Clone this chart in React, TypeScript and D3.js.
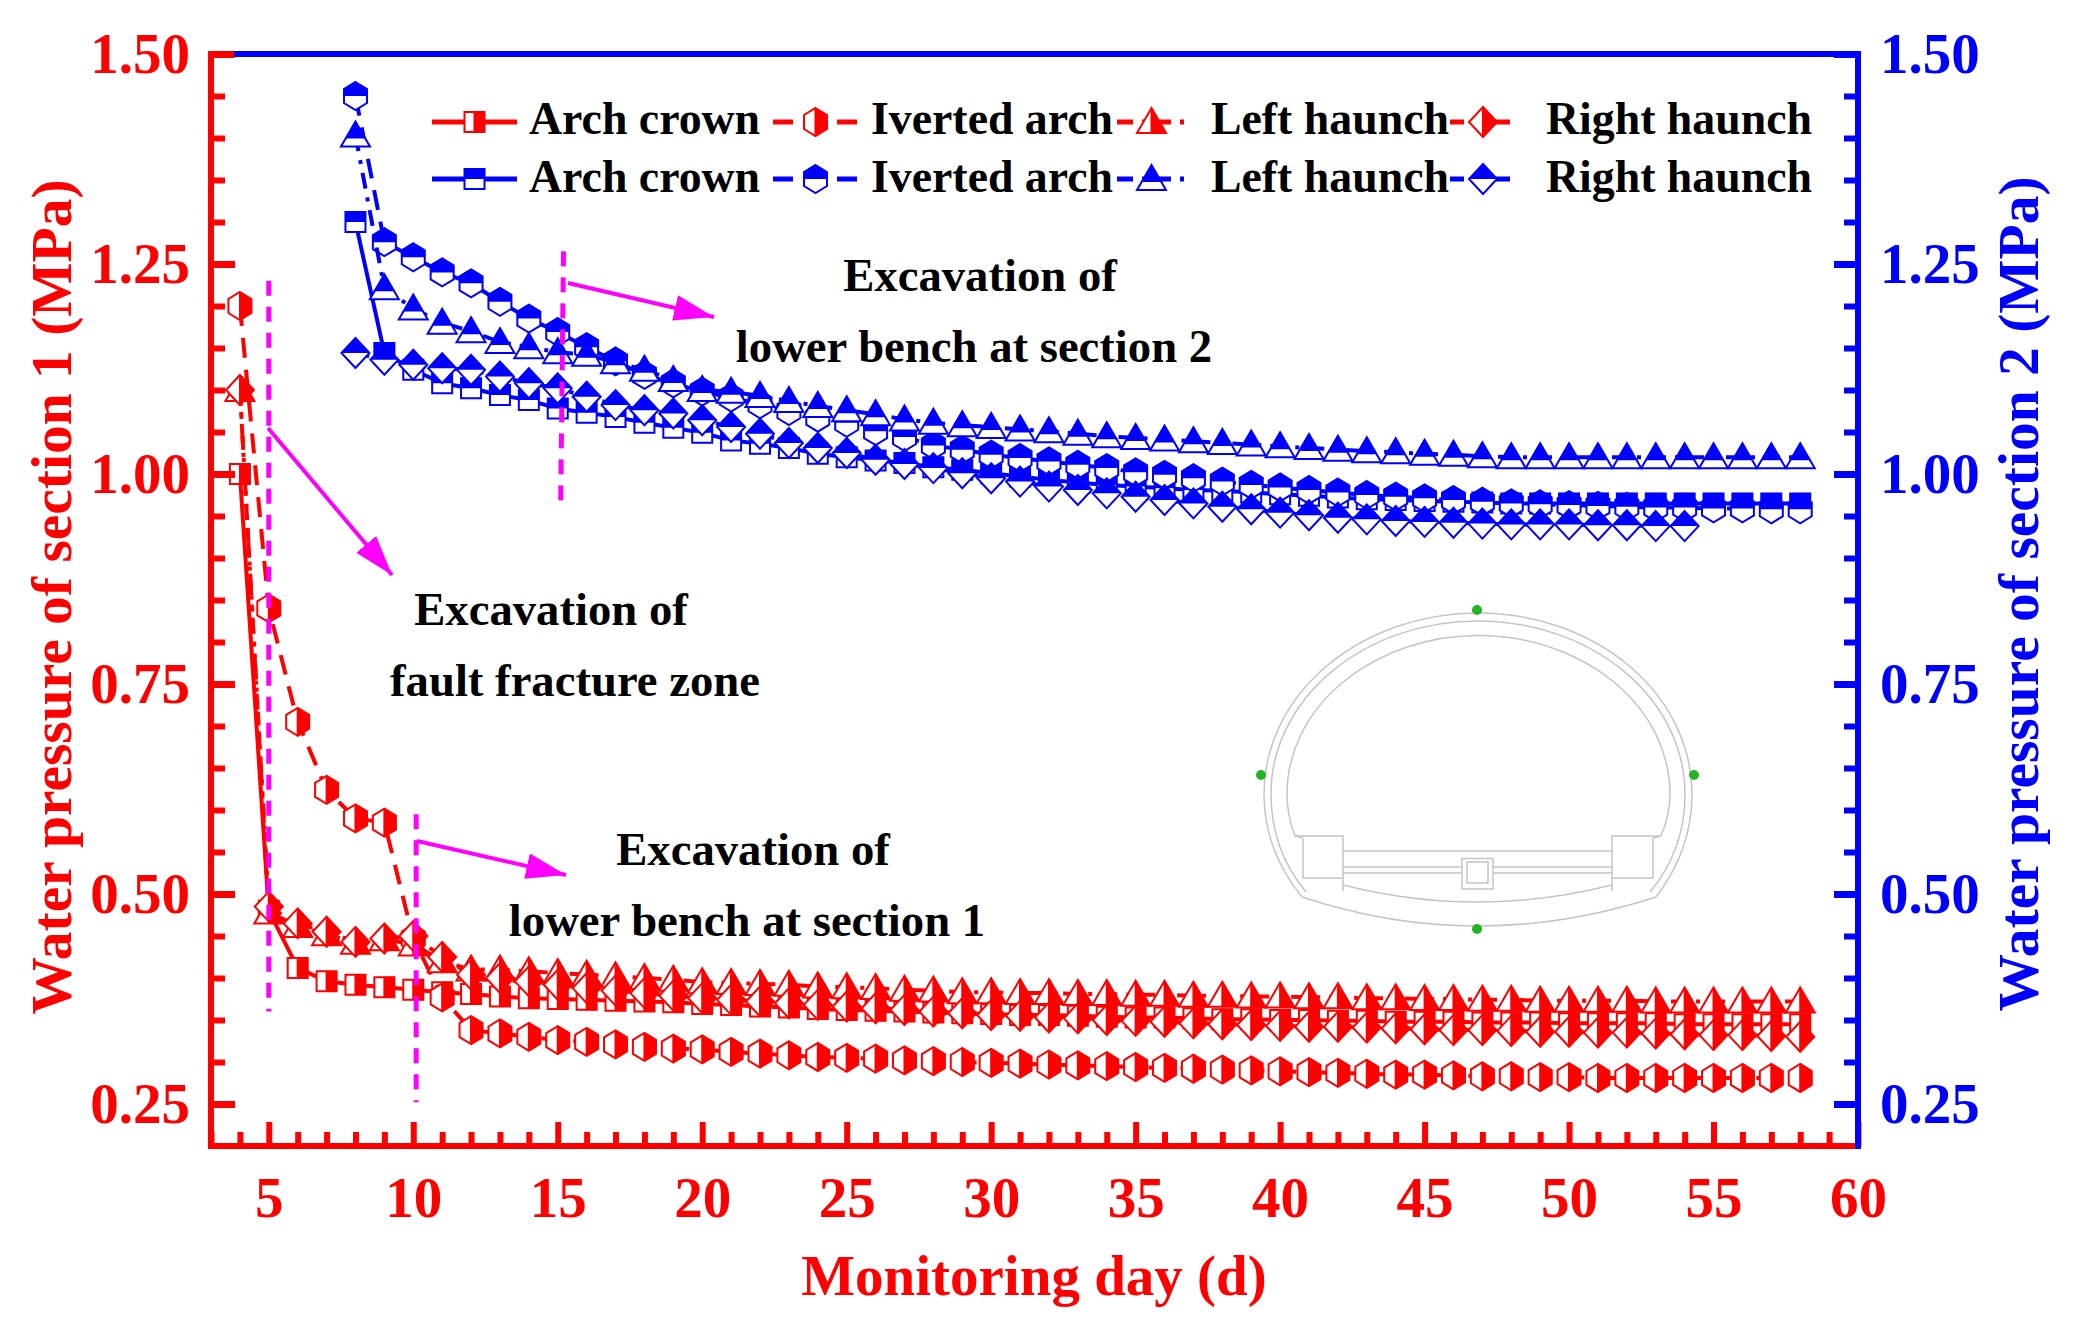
import React, { useEffect, useRef } from "react";
import * as d3 from "d3";

const W = 2078;
const H = 1334;
const RED = "#ff0000";
const BLUE = "#0000ff";
const MAGENTA = "#ff00ff";
const FONT = '"Liberation Serif", serif';

const redDays = d3.range(4, 59);
const blueDays = d3.range(8, 59);

// section 1, days 4..58
const redCrown = [1.0, 0.48, 0.412, 0.396, 0.392, 0.389, 0.386, 0.383, 0.381, 0.378, 0.376, 0.375, 0.374, 0.373, 0.372, 0.371, 0.369, 0.368, 0.366, 0.365, 0.363, 0.362, 0.361, 0.36, 0.359, 0.358, 0.357, 0.356, 0.356, 0.355, 0.354, 0.353, 0.353, 0.352, 0.351, 0.351, 0.35, 0.35, 0.349, 0.349, 0.348, 0.348, 0.348, 0.347, 0.347, 0.347, 0.346, 0.346, 0.346, 0.346, 0.345, 0.345, 0.345, 0.345, 0.345];
const redInverted = [1.2, 0.84, 0.705, 0.624, 0.59, 0.585, 0.447, 0.377, 0.338, 0.334, 0.33, 0.326, 0.324, 0.321, 0.318, 0.316, 0.315, 0.312, 0.31, 0.308, 0.306, 0.305, 0.304, 0.302, 0.301, 0.3, 0.299, 0.298, 0.297, 0.296, 0.295, 0.294, 0.293, 0.292, 0.291, 0.29, 0.289, 0.288, 0.287, 0.286, 0.285, 0.285, 0.284, 0.283, 0.283, 0.282, 0.282, 0.281, 0.281, 0.281, 0.281, 0.281, 0.281, 0.281, 0.281];
const redLeft = [1.1, 0.478, 0.462, 0.452, 0.442, 0.446, 0.44, 0.42, 0.41, 0.41, 0.408, 0.406, 0.404, 0.402, 0.4, 0.398, 0.395, 0.394, 0.393, 0.392, 0.39, 0.389, 0.388, 0.386, 0.385, 0.383, 0.383, 0.382, 0.382, 0.381, 0.381, 0.38, 0.38, 0.379, 0.379, 0.378, 0.378, 0.377, 0.377, 0.376, 0.376, 0.375, 0.375, 0.374, 0.374, 0.373, 0.373, 0.373, 0.373, 0.372, 0.372, 0.372, 0.372, 0.372, 0.372];
const redRight = [1.1, 0.485, 0.465, 0.455, 0.443, 0.447, 0.45, 0.425, 0.404, 0.4, 0.396, 0.392, 0.388, 0.385, 0.382, 0.379, 0.376, 0.374, 0.372, 0.37, 0.368, 0.366, 0.364, 0.362, 0.36, 0.358, 0.356, 0.355, 0.353, 0.352, 0.35, 0.349, 0.348, 0.346, 0.345, 0.344, 0.343, 0.342, 0.342, 0.341, 0.34, 0.339, 0.338, 0.338, 0.337, 0.336, 0.336, 0.335, 0.335, 0.334, 0.333, 0.332, 0.332, 0.331, 0.33];

// section 2, days 8..58 (right haunch stops at day 54)
const blueCrown = [1.3, 1.144, 1.124, 1.108, 1.102, 1.094, 1.088, 1.078, 1.073, 1.068, 1.061, 1.055, 1.049, 1.04, 1.036, 1.031, 1.024, 1.02, 1.016, 1.013, 1.008, 1.005, 1.001, 0.997, 0.993, 0.99, 0.987, 0.985, 0.983, 0.981, 0.98, 0.978, 0.976, 0.974, 0.972, 0.97, 0.969, 0.968, 0.967, 0.966, 0.965, 0.965, 0.965, 0.965, 0.965, 0.965, 0.965, 0.965, 0.965, 0.965, 0.965];
const blueInverted = [1.45, 1.276, 1.258, 1.24, 1.227, 1.205, 1.185, 1.169, 1.151, 1.134, 1.118, 1.108, 1.098, 1.091, 1.083, 1.075, 1.067, 1.061, 1.051, 1.044, 1.034, 1.029, 1.023, 1.019, 1.015, 1.011, 1.007, 1.002, 0.999, 0.995, 0.991, 0.987, 0.984, 0.981, 0.978, 0.975, 0.973, 0.971, 0.969, 0.967, 0.965, 0.964, 0.963, 0.962, 0.961, 0.96, 0.96, 0.959, 0.959, 0.958, 0.958];
const blueLeft = [1.403, 1.221, 1.197, 1.18, 1.17, 1.157, 1.151, 1.145, 1.142, 1.133, 1.124, 1.112, 1.1, 1.098, 1.093, 1.087, 1.081, 1.076, 1.071, 1.065, 1.061, 1.058, 1.056, 1.053, 1.051, 1.048, 1.045, 1.043, 1.041, 1.039, 1.037, 1.035, 1.033, 1.031, 1.029, 1.027, 1.026, 1.024, 1.023, 1.021, 1.02, 1.02, 1.02, 1.02, 1.02, 1.02, 1.02, 1.02, 1.02, 1.02, 1.02];
const blueRight = [1.144, 1.136, 1.13, 1.126, 1.124, 1.116, 1.108, 1.102, 1.092, 1.082, 1.076, 1.072, 1.064, 1.056, 1.048, 1.037, 1.031, 1.025, 1.017, 1.012, 1.007, 1.001, 0.995, 0.991, 0.985, 0.981, 0.977, 0.973, 0.969, 0.965, 0.961, 0.958, 0.954, 0.951, 0.948, 0.946, 0.944, 0.943, 0.942, 0.941, 0.94, 0.94, 0.94, 0.939, 0.939, 0.938, 0.938];

const xTicks = [5, 10, 15, 20, 25, 30, 35, 40, 45, 50, 55, 60];
const yTicks = [0.25, 0.5, 0.75, 1.0, 1.25, 1.5];

const SHAPES: Record<string, number[][]> = {
  square: [[-10, -10], [10, -10], [10, 10], [-10, 10]],
  hexagon: [[0, -14], [11.5, -7], [11.5, 7], [0, 14], [-11.5, 7], [-11.5, -7]],
  triangle: [[0, -14], [14.5, 11], [-14.5, 11]],
  diamond: [[0, -15], [14, 0], [0, 15], [-14, 0]],
};
const DASHES: Record<string, string> = {
  square: "none",
  hexagon: "20 12",
  triangle: "16 9 4 9",
  diamond: "14 8 4 8 4 8",
};
const LEGEND_NAMES = ["Arch crown", "Iverted arch", "Left haunch", "Right haunch"];
const LEGEND_SHAPES = ["square", "hexagon", "triangle", "diamond"];
const legendLineX = [[432, 517], [773, 858], [1117, 1186], [1450, 1516]];
const legendTextX = [529, 871, 1211, 1546];

const pathOf = (pts: number[][]) => "M" + pts.map((p) => p.join(",")).join("L") + "Z";

const App = () => {
  const svgRef = useRef<SVGSVGElement>(null);

  useEffect(() => {
    const svg = d3.select(svgRef.current);
    svg.selectAll("*").remove();

    const x = d3.scaleLinear().domain([3, 60]).range([211, 1858]);
    const y = d3.scaleLinear().domain([0.2, 1.5]).range([1146, 54]);

    const defs = svg.append("defs");
    defs.append("clipPath").attr("id", "halfRed").append("rect").attr("x", -1).attr("y", -20).attr("width", 21).attr("height", 40);
    defs.append("clipPath").attr("id", "halfBlue").append("rect").attr("x", -20).attr("y", -20).attr("width", 40).attr("height", 20);
    defs.append("clipPath").attr("id", "halfBlueTri").append("rect").attr("x", -20).attr("y", -20).attr("width", 40).attr("height", 23);
    defs.append("marker").attr("id", "arrowHead").attr("viewBox", "0 0 40 26").attr("refX", 40).attr("refY", 13)
      .attr("markerUnits", "userSpaceOnUse").attr("markerWidth", 40).attr("markerHeight", 26).attr("orient", "auto")
      .append("path").attr("d", "M0,0L40,13L0,26Z").attr("fill", MAGENTA);

    const drawMarker = (g: any, shape: string, color: string) => {
      const d = pathOf(SHAPES[shape]);
      g.append("path").attr("d", d).attr("fill", "#fff").attr("stroke", color).attr("stroke-width", 2);
      const clip = color === RED ? "halfRed" : shape === "triangle" ? "halfBlueTri" : "halfBlue";
      g.append("path").attr("d", d).attr("fill", color).attr("stroke", color).attr("stroke-width", 1).attr("clip-path", `url(#${clip})`);
    };

    const drawSeries = (days: number[], values: number[], shape: string, color: string) => {
      const pts = values.map((v, i) => [days[i], v] as [number, number]);
      const line = d3.line<[number, number]>().x((d) => x(d[0])).y((d) => y(d[1]));
      svg.append("path").attr("d", line(pts)).attr("fill", "none").attr("stroke", color)
        .attr("stroke-width", 4).attr("stroke-dasharray", DASHES[shape]);
      svg.append("g").selectAll("g").data(pts).join("g")
        .attr("transform", (d) => `translate(${x(d[0])},${y(d[1])})`)
        .each(function () { drawMarker(d3.select(this), shape, color); });
    };

    // tunnel section inset
    const inset = svg.append("g").attr("fill", "none").attr("stroke", "#c4c4c4").attr("stroke-width", 1.5);
    [
      "M1264,794A214,181 0 0 1 1692,794Q1692,850 1656,897Q1477,955 1302,897Q1264,850 1264,794",
      "M1271,794A207,173 0 0 1 1685,794Q1685,850 1650,892M1271,794Q1271,850 1306,892",
      "M1287,794A191,158 0 0 1 1670,794Q1670,815 1661,836M1287,794Q1287,815 1295,836",
      "M1295,836H1343V891M1661,836H1612V891",
      "M1303,838V878H1343M1653,838V878H1612M1303,838L1295,836M1653,838L1661,836",
      "M1343,851H1612M1343,867H1462M1493,867H1612M1343,873H1462M1493,873H1612",
      "M1343,885Q1477,919 1612,885",
      "M1462,858.5H1493V889H1462ZM1467,862H1488V883H1467Z",
    ].forEach((d) => inset.append("path").attr("d", d));
    svg.append("g").selectAll("circle").data([[1477, 610], [1261, 775], [1694, 775], [1477, 929]]).join("circle")
      .attr("cx", (d) => d[0]).attr("cy", (d) => d[1]).attr("r", 5).attr("fill", "#22b422");

    drawSeries(redDays, redCrown, "square", RED);
    drawSeries(redDays, redInverted, "hexagon", RED);
    drawSeries(redDays, redLeft, "triangle", RED);
    drawSeries(redDays, redRight, "diamond", RED);
    drawSeries(blueDays, blueCrown, "square", BLUE);
    drawSeries(blueDays, blueInverted, "hexagon", BLUE);
    drawSeries(blueDays, blueLeft, "triangle", BLUE);
    drawSeries(blueDays, blueRight, "diamond", BLUE);

    // excavation markers
    const stages = [
      { x1: 5, x2: 5, y1: 1.23, y2: 0.36 },
      { x1: 10.1, x2: 10.1, y1: 0.595, y2: 0.252 },
      { x1: 15.2, x2: 15.1, y1: 1.265, y2: 0.96 },
    ];
    svg.append("g").selectAll("line").data(stages).join("line")
      .attr("x1", (d) => x(d.x1)).attr("x2", (d) => x(d.x2)).attr("y1", (d) => y(d.y1)).attr("y2", (d) => y(d.y2))
      .attr("stroke", MAGENTA).attr("stroke-width", 5).attr("stroke-dasharray", "15 11");

    const arrows = [[268, 428, 392, 575], [417, 841, 566, 875], [568, 283, 714, 317]];
    svg.append("g").selectAll("line").data(arrows).join("line")
      .attr("x1", (d) => d[0]).attr("y1", (d) => d[1]).attr("x2", (d) => d[2]).attr("y2", (d) => d[3])
      .attr("stroke", MAGENTA).attr("stroke-width", 4).attr("marker-end", "url(#arrowHead)");

    const notes: [string, number, number][] = [
      ["Excavation of", 551, 625],
      ["fault fracture zone", 575, 696],
      ["Excavation of", 753, 865],
      ["lower bench at section 1", 747, 936],
      ["Excavation of", 980, 291],
      ["lower bench at section 2", 974, 362],
    ];
    svg.append("g").selectAll("text").data(notes).join("text")
      .attr("x", (d) => d[1]).attr("y", (d) => d[2]).text((d) => d[0])
      .attr("text-anchor", "middle").attr("font-family", FONT).attr("font-weight", "bold").attr("font-size", 46.7).attr("fill", "#000");

    // legend
    [RED, BLUE].forEach((color, row) => {
      const ly = row === 0 ? 122 : 179;
      LEGEND_NAMES.forEach((name, i) => {
        const [a, b] = legendLineX[i];
        svg.append("line").attr("x1", a).attr("x2", b).attr("y1", ly).attr("y2", ly)
          .attr("stroke", color).attr("stroke-width", 5).attr("stroke-dasharray", DASHES[LEGEND_SHAPES[i]]);
        const g = svg.append("g").attr("transform", `translate(${(a + b) / 2},${ly})`);
        drawMarker(g, LEGEND_SHAPES[i], color);
        svg.append("text").attr("x", legendTextX[i]).attr("y", row === 0 ? 134 : 192).text(name)
          .attr("font-family", FONT).attr("font-weight", "bold").attr("font-size", 45.8).attr("fill", "#000");
      });
    });

    // axes
    const styleAxis = (g: any, color: string, width: number) => {
      g.select(".domain").remove();
      g.selectAll("line").attr("stroke", color).attr("stroke-width", width);
      g.selectAll("text").attr("fill", color).attr("font-family", FONT).attr("font-weight", "bold").attr("font-size", 57);
    };
    const minorX = d3.range(3, 61).filter((d) => d % 5 !== 0);
    const minorY = d3.range(5, 30).map((d) => d / 20).filter((d) => Math.round(d * 100) % 25 !== 0);

    const bottom = svg.append("g").attr("transform", "translate(0,1146)");
    bottom.append("g").call(d3.axisBottom(x).tickValues(xTicks).tickSize(-24).tickPadding(31).tickFormat(d3.format("d")))
      .call(styleAxis, RED, 6);
    bottom.append("g").call(d3.axisBottom(x).tickValues(minorX).tickSize(-14).tickFormat(() => "")).call(styleAxis, RED, 6);

    const left = svg.append("g").attr("transform", "translate(211,0)");
    left.append("g").call(d3.axisLeft(y).tickValues(yTicks).tickSize(-24).tickPadding(21).tickFormat(d3.format(".2f")))
      .call(styleAxis, RED, 7);
    left.append("g").call(d3.axisLeft(y).tickValues(minorY).tickSize(-14).tickFormat(() => "")).call(styleAxis, RED, 6);

    const right = svg.append("g").attr("transform", "translate(1858,0)");
    right.append("g").call(d3.axisRight(y).tickValues(yTicks).tickSize(-24).tickPadding(22).tickFormat(d3.format(".2f")))
      .call(styleAxis, BLUE, 7);
    right.append("g").call(d3.axisRight(y).tickValues(minorY).tickSize(-14).tickFormat(() => "")).call(styleAxis, BLUE, 6);

    // frame
    const frame = [
      { x1: 234, x2: 1861, y1: 54, y2: 54, c: BLUE },
      { x1: 1858, x2: 1858, y1: 51, y2: 1149, c: BLUE },
      { x1: 208, x2: 234, y1: 54, y2: 54, c: RED },
      { x1: 211, x2: 211, y1: 51, y2: 1149, c: RED },
      { x1: 208, x2: 1855, y1: 1146, y2: 1146, c: RED },
    ];
    svg.append("g").selectAll("line").data(frame).join("line")
      .attr("x1", (d) => d.x1).attr("x2", (d) => d.x2).attr("y1", (d) => d.y1).attr("y2", (d) => d.y2)
      .attr("stroke", (d) => d.c).attr("stroke-width", 6);

    // axis titles
    svg.append("text").attr("x", 1034).attr("y", 1295).text("Monitoring day (d)")
      .attr("text-anchor", "middle").attr("font-family", FONT).attr("font-weight", "bold").attr("font-size", 57).attr("fill", RED);
    svg.append("text").attr("transform", "translate(71,597) rotate(-90)").text("Water pressure of section 1 (MPa)")
      .attr("text-anchor", "middle").attr("font-family", FONT).attr("font-weight", "bold").attr("font-size", 57.5).attr("fill", RED);
    svg.append("text").attr("transform", "translate(2038,594) rotate(-90)").text("Water pressure of section 2 (MPa)")
      .attr("text-anchor", "middle").attr("font-family", FONT).attr("font-weight", "bold").attr("font-size", 57.5).attr("fill", BLUE);
  }, []);

  return (
    <svg
      ref={svgRef}
      width={W}
      height={H}
      style={{ position: "absolute", left: 0, top: 0, background: "#fff" }}
    />
  );
};

export default App;
